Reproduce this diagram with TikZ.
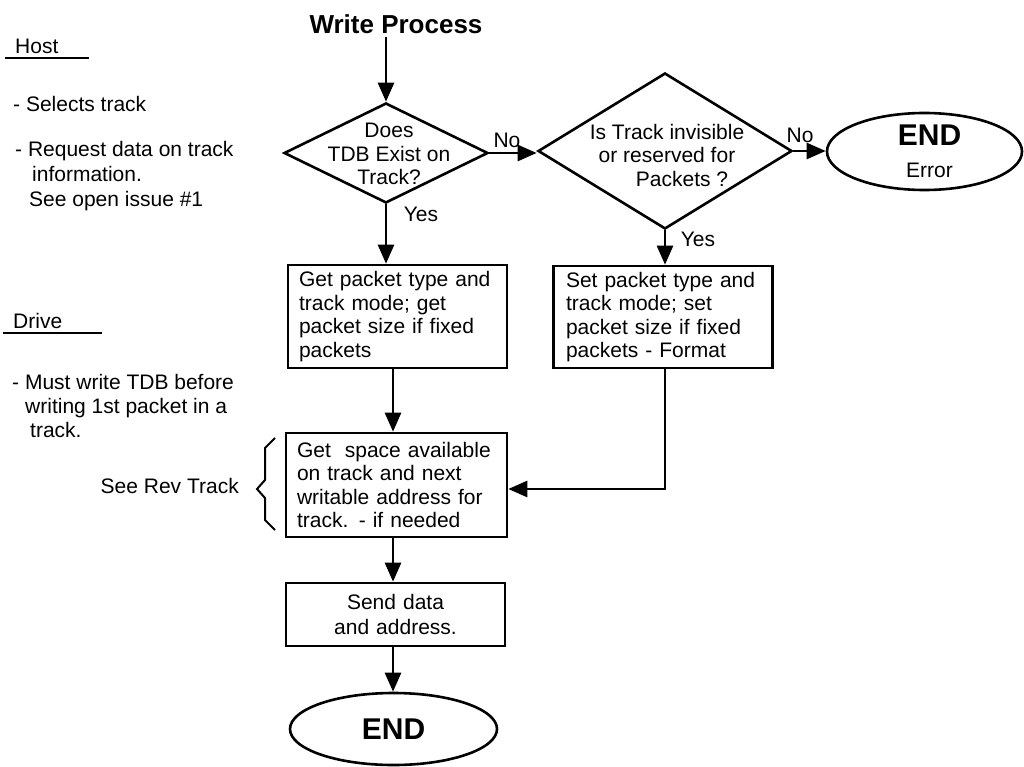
\documentclass[tikz,border=0pt]{standalone}
\usepackage{fontspec}
\setmainfont{Liberation Sans}
\usetikzlibrary{shapes.geometric,arrows.meta}
\begin{document}
\begin{tikzpicture}[x=1pt,y=-1pt,
  every node/.style={font=\fontsize{21}{23.5}\selectfont, inner sep=0pt},
  lw/.style={line width=2.6pt},
  arr/.style={line width=2.6pt, -{Triangle[length=19pt,width=16pt]}},
  procbox/.style={draw, lw, rectangle, minimum width=219pt, text width=197pt, inner xsep=11pt, align=left},
  decision/.style={draw, lw, diamond, inner sep=0pt},
  terminal/.style={draw, lw, ellipse, inner sep=0pt, align=center},
  txt/.style={anchor=base west},
  lbl/.style={anchor=base},
  brace/.style={line width=2pt},
  uline/.style={line width=2.2pt}
]
\useasboundingbox (0,0) rectangle (1024,767);

% title
\node[anchor=base, font=\fontsize{26}{30}\selectfont\bfseries, inner sep=3pt] (title) at (396,34) {Write Process};

% left side notes
\node[txt] (host) at (15,54) {Host};
\draw[uline] (5,58) -- (89,58);
\node[txt] (h1) at (13,112) {- Selects track};
\node[txt] (h2) at (15,157) {- Request data on track};
\node[txt] (h3) at (32,182) {information.};
\node[txt] (h4) at (29,207) {See open issue \#1};
\node[txt] (drive) at (13,328) {Drive};
\draw[uline] (3,333) -- (102,333);
\node[txt] (d1l) at (12,389) {- Must write TDB before};
\node[txt] (d2l) at (25,413) {writing 1st packet in a};
\node[txt] (d3l) at (30,437) {track.};
\node[anchor=base east] (rev) at (239,493) {See Rev Track};
\draw[brace] (275,438) -- (265,448) -- (265,480) -- (257,489) -- (265,498) -- (265,520) -- (275,530);

% decisions
\node[decision, minimum width=204pt, minimum height=100pt] (d1) at (386,153) {};
\node[align=center] (d1t) at (389,154) {Does\\TDB Exist on\\Track?};
\node[decision, minimum width=254pt, minimum height=156pt] (d2) at (665,151) {};
\node[align=center] (d2t) at (667,155) {Is Track invisible\\or reserved for\\\hspace*{30pt}Packets ?};

% terminals
\node[terminal, minimum width=195pt, minimum height=77pt] (err) at (924.5,151.5)
  {\hspace*{10pt}{\fontsize{30}{32}\selectfont\bfseries END}\\[9pt]\hspace*{10pt}Error};
\node[terminal, minimum width=207pt, minimum height=72pt, font=\fontsize{30}{32}\selectfont\bfseries] (endb) at (393.5,729) {END};

% process boxes
\node[procbox, minimum height=103pt] (b1) at (397.5,316.5)
  {Get packet type and\\track mode; get\\packet size if fixed\\packets};
\node[procbox, minimum height=102pt, inner xsep=12pt, text width=194pt] (b2) at (663,317)
  {Set packet type and\\track mode; set\\packet size if fixed\\packets - Format};
\node[procbox, minimum height=104pt, text width=199pt, inner xsep=11pt] (b3) at (396.5,485)
  {Get~ space available\\on track and next\\writable address for\\track. - if needed};
\node[procbox, minimum height=63pt, align=center] (b4) at (395.5,614.5)
  {Send data\\[2pt]and address.};

\coordinate (col) at (393,0);

% connectors
\draw[arr] (title.south -| d1.north) -- (d1.north);
\draw[arr] (d1.east) -- (d1.east -| d2.west);
\draw[arr] (d2.east) -- (d2.east -| err.west);
\draw[arr] (d1.south) -- (d1.south |- b1.north);
\draw[arr] (d2.south) -- (d2.south |- b2.north);
\draw[arr] (b1.south -| col) -- (b3.north -| col);
\draw[arr] (b2.south -| d2.south) |- ([yshift=-4pt]b3.east);
\draw[arr] (b3.south -| col) -- (b4.north -| col);
\draw[arr] (b4.south -| col) -- (endb.north -| col);

% branch labels
\node[lbl] (no1) at (507,148) {No};
\node[lbl] (yes1) at (421,222) {Yes};
\node[lbl] (no2) at (800,143) {No};
\node[lbl] (yes2) at (698,247) {Yes};
\end{tikzpicture}
\end{document}
